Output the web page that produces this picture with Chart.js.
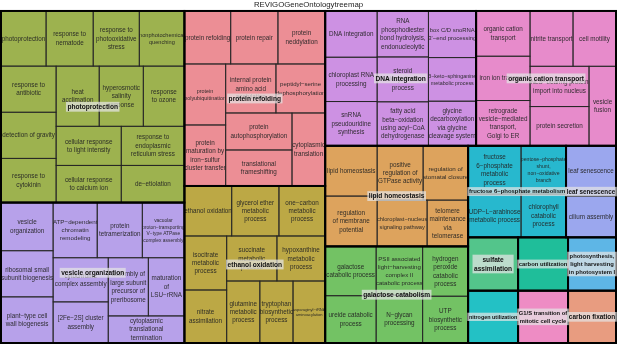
<!DOCTYPE html>
<html><head><meta charset="utf-8">
<script src="https://cdn.jsdelivr.net/npm/chart.js@4.4.1/dist/chart.umd.min.js"></script>
<style>html,body{margin:0;padding:0;background:#fff;overflow:hidden}</style>
</head><body>
<canvas id="c" width="617" height="344"></canvas>
<script>
const chartTitle = "REVIGOGeneOntologytreemap";

const groupNames = [
  "photoprotection", "protein refolding", "vesicle organization", "ethanol oxidation",
  "DNA integration", "organic cation transport", "lipid homeostasis", "galactose catabolism",
  "fructose 6−phosphate metabolism", "leaf senescence", "sulfate\nassimilation", "carbon utilization",
  "photosynthesis,\nlight harvesting\nin photosystem I", "nitrogen utilization", "G1/S transition of\nmitotic cell cycle", "carbon fixation"
];

const tileLabels = [
  ["photoprotection", "response to\nnematode", "response to\nphotooxidative\nstress", "nonphotochemical\nquenching",
   "response to\nantibiotic", "detection of gravity", "response to\ncytokinin", "heat\nacclimation",
   "hyperosmotic\nsalinity\nresponse", "response\nto ozone", "cellular response\nto light intensity",
   "response to\nendoplasmic\nreticulum stress", "cellular response\nto calcium ion", "de−etiolation"],
  ["protein refolding", "protein repair", "protein\nneddylation", "protein\npolyubiquitination",
   "protein\nmaturation by\niron−sulfur\ncluster transfer", "internal protein\namino acid\nacetylation",
   "peptidyl−serine\ndephosphorylation", "protein\nautophosphorylation", "translational\nframeshifting",
   "cytoplasmic\ntranslation"],
  ["vesicle\norganization", "ATP−dependent\nchromatin\nremodeling", "protein\ntetramerization",
   "vacuolar\nproton−transporting\nV−type ATPase\ncomplex assembly", "ribosomal small\nsubunit biogenesis",
   "cytochrome\ncomplex assembly", "assembly of\nlarge subunit\nprecursor of\npreribosome", "maturation\nof\nLSU−rRNA",
   "plant−type cell\nwall biogenesis", "[2Fe−2S] cluster\nassembly", "cytoplasmic\ntranslational\ntermination"],
  ["ethanol oxidation", "glycerol ether\nmetabolic\nprocess", "one−carbon\nmetabolic\nprocess", "isocitrate\nmetabolic\nprocess",
   "succinate\nmetabolic\nprocess", "hypoxanthine\nmetabolic\nprocess", "nitrate\nassimilation", "glutamine\nmetabolic\nprocess",
   "tryptophan\nbiosynthetic\nprocess", "asparaginyl−tRNA\naminoacylation"],
  ["DNA integration", "RNA\nphosphodiester\nbond hydrolysis,\nendonucleolytic", "box C/D snoRNA\n3'−end processing",
   "chloroplast RNA\nprocessing", "steroid\nbiosynthetic\nprocess", "3−keto−sphinganine\nmetabolic process",
   "snRNA\npseudouridine\nsynthesis", "fatty acid\nbeta−oxidation\nusing acyl−CoA\ndehydrogenase",
   "glycine\ndecarboxylation\nvia glycine\ncleavage system"],
  ["organic cation\ntransport", "nitrite transport", "cell motility", "iron ion transport",
   "NLS−bearing protein\nimport into nucleus", "vesicle\nfusion", "retrograde\nvesicle−mediated\ntransport,\nGolgi to ER",
   "protein secretion"],
  ["lipid homeostasis", "positive\nregulation of\nGTPase activity", "regulation of\nstomatal closure",
   "regulation\nof membrane\npotential", "chloroplast−nucleus\nsignaling pathway", "telomere\nmaintenance\nvia\ntelomerase"],
  ["galactose\ncatabolic process", "PSII associated\nlight−harvesting\ncomplex II\ncatabolic process",
   "hydrogen\nperoxide\ncatabolic\nprocess", "ureide catabolic\nprocess", "N−glycan\nprocessing", "UTP\nbiosynthetic\nprocess"],
  ["fructose\n6−phosphate\nmetabolic\nprocess", "pentose−phosphate\nshunt,\nnon−oxidative\nbranch",
   "UDP−L−arabinose\nmetabolic process", "chlorophyll\ncatabolic\nprocess"],
  ["leaf senescence", "cilium assembly"],
  ["sulfate assimilation"], ["carbon utilization"], ["photosynthesis, light harvesting in photosystem I"],
  ["nitrogen utilization"], ["G1/S transition of mitotic cell cycle"], ["carbon fixation"]
];

const tileValues = [
  [2475, 2585, 2530, 2475, 2530, 2530, 2420, 2580, 2640, 2460, 2535, 2457, 2405, 2331],
  [2438, 2491, 2491, 2501, 2501, 2450, 2401, 2442, 2376, 2409],
  [2496, 2420, 2475, 2310, 2392, 2420, 2320, 2088, 2392, 2255, 2052],
  [2350, 2350, 2300, 2268, 2250, 2160, 2226, 2046, 2046, 1984],
  [2392, 2346, 2208, 2288, 2288, 2068, 2288, 2244, 2112],
  [2430, 2365, 2365, 2376, 2360, 2133, 2430, 2301],
  [2600, 2484, 2430, 2600, 2300, 1886],
  [2499, 2254, 2254, 2397, 2209, 2115],
  [2544, 2160, 2279, 1935],
  [2500, 2050],
  [2650], [2650], [2544], [2600], [2600], [2496]
];

const groupColors = [
  "#9DB24F", "#EC8E95", "#B7A1EA", "#BCA845", "#CD91E3", "#E78BCB", "#DDA35D", "#73C264",
  "#27B8CE", "#9BA7EE", "#53C58B", "#1FBE9A", "#5EB6E6", "#23C1C5", "#EE8CC4", "#E89C80"
];

// slice arrangement (h = side by side, v = stacked); numbers index groups / tiles
const topArrangement = ['h', ['v', 0, 2], ['v', 1, 3],
  ['v', ['h', 4, 5], ['h', ['v', 6, 7], ['v', ['h', 8, 9], ['h', ['v', 10, 13], ['v', 11, 14], ['v', 12, 15]]]]]];
const groupArrangements = [
  ['v', ['h', 0, 1, 2, 3], ['h', ['v', 4, 5, 6], ['v', ['h', 7, 8, 9], ['h', ['v', 10, 12], ['v', 11, 13]]]]],
  ['v', ['h', 0, 1, 2], ['h', ['v', 3, 4], ['v', ['h', 5, 6], ['h', ['v', 7, 8], 9]]]],
  ['h', ['v', 0, 4, 8], ['v', ['h', 1, 2, 3], ['h', ['v', 5, 9], ['v', ['h', 6, 7], 10]]]],
  ['v', ['h', 0, 1, 2], ['h', ['v', 3, 6], ['v', ['h', 4, 5], ['h', 7, 8, 9]]]],
  ['h', ['v', 0, 3, 6], ['v', 1, 4, 7], ['v', 2, 5, 8]],
  ['h', ['v', 0, 3, 6], ['v', ['h', 1, 2], ['h', ['v', 4, 7], 5]]],
  ['h', ['v', 0, 3], ['v', ['h', 1, 2], ['h', 4, 5]]],
  ['h', ['v', 0, 3], ['v', 1, 4], ['v', 2, 5]],
  ['h', ['v', 0, 2], ['v', 1, 3]],
  ['v', 0, 1],
  0, 0, 0, 0, 0, 0
];

const FONT = '"Liberation Sans", Arial, Helvetica, sans-serif';

function sumNode(node, vals) {
  if (typeof node === 'number') return vals[node];
  return node.slice(1).reduce((s, c) => s + sumNode(c, vals), 0);
}
function layoutNode(node, vals, x0, y0, x1, y1, out) {
  if (typeof node === 'number') { out[node] = {x0, y0, x1, y1}; return; }
  const dir = node[0], kids = node.slice(1), total = sumNode(node, vals);
  let pos = dir === 'h' ? x0 : y0;
  kids.forEach(k => {
    const f = sumNode(k, vals) / total;
    if (dir === 'h') { const n = pos + (x1 - x0) * f; layoutNode(k, vals, pos, y0, n, y1, out); pos = n; }
    else { const n = pos + (y1 - y0) * f; layoutNode(k, vals, x0, pos, x1, n, out); pos = n; }
  });
}

const groupTotals = tileValues.map(a => a.reduce((s, v) => s + v, 0));
const groupRects = [];
layoutNode(topArrangement, groupTotals, 0, 0, 1, 1, groupRects);
const tileRects = groupRects.map((r, g) => {
  const out = [];
  layoutNode(groupArrangements[g], tileValues[g], r.x0, r.y0, r.x1, r.y1, out);
  return out;
});
const centers = [];
tileRects.forEach(rs => rs.forEach(r => centers.push({x: (r.x0 + r.x1) / 2, y: (r.y0 + r.y1) / 2})));

function drawLabel(ctx, text, cx, cy, maxW, maxH, base, weight, color, bg, slack) {
  const lines = text.split('\n');
  ctx.font = `${weight} ${base}px ${FONT}`;
  const mw = Math.max(...lines.map(l => ctx.measureText(l).width));
  const lhR = 1.34;
  const s = Math.min(1, (maxW + slack) / mw, (maxH - 1) / (lines.length * base * lhR));
  const size = base * s, lh = size * lhR;
  ctx.font = `${weight} ${size}px ${FONT}`;
  const tw = mw * s;
  const top = cy - lines.length * lh / 2;
  if (bg) {
    ctx.fillStyle = bg;
    ctx.fillRect(cx - tw / 2 - 1.5, top - 0.5, tw + 3, lines.length * lh + 1);
  }
  ctx.fillStyle = color;
  ctx.textAlign = 'center';
  ctx.textBaseline = 'middle';
  lines.forEach((l, i) => ctx.fillText(l, cx, top + lh * (i + 0.5) + 0.3));
}

const treemapPlugin = {
  id: 'treemapDraw',
  afterDatasetsDraw(chart) {
    const ctx = chart.ctx, xs = chart.scales.x, ys = chart.scales.y;
    const P = r => {
      const x0 = xs.getPixelForValue(r.x0), x1 = xs.getPixelForValue(r.x1);
      const y0 = ys.getPixelForValue(r.y0), y1 = ys.getPixelForValue(r.y1);
      return {x: x0, y: y0, w: x1 - x0, h: y1 - y0};
    };
    ctx.save();
    tileRects.forEach((rs, g) => rs.forEach(r => {
      const p = P(r);
      ctx.fillStyle = groupColors[g];
      ctx.fillRect(p.x, p.y, p.w, p.h);
    }));
    // tile labels (clipped to their tile)
    tileRects.forEach((rs, g) => {
      if (rs.length < 2) return;
      rs.forEach((r, i) => {
        const p = P(r);
        ctx.save();
        ctx.beginPath(); ctx.rect(p.x, p.y, p.w, p.h); ctx.clip();
        drawLabel(ctx, tileLabels[g][i], p.x + p.w / 2, p.y + p.h / 2, p.w, p.h, 6.3, 'normal', 'rgba(35,35,35,0.92)', null, 0.5);
        ctx.restore();
      });
    });
    ctx.strokeStyle = 'rgba(35,35,35,0.85)';
    ctx.lineWidth = 1;
    tileRects.forEach(rs => rs.forEach(r => {
      const p = P(r);
      ctx.strokeRect(p.x, p.y, p.w, p.h);
    }));
    ctx.strokeStyle = '#000';
    ctx.lineWidth = 2;
    groupRects.forEach(r => { const p = P(r); ctx.strokeRect(p.x, p.y, p.w, p.h); });
    // group labels
    groupRects.forEach((r, g) => {
      const p = P(r);
      drawLabel(ctx, groupNames[g], p.x + p.w / 2, p.y + p.h / 2, p.w, p.h, 6.6, 'bold', '#111', 'rgba(228,228,228,0.72)', -1.5);
    });
    ctx.restore();
  }
};

new Chart(document.getElementById('c').getContext('2d'), {
  type: 'scatter',
  data: {datasets: [{data: centers, pointRadius: 0, pointHoverRadius: 0}]},
  options: {
    responsive: false, animation: false, devicePixelRatio: 1,
    layout: {padding: {left: 1, right: 1, top: 0, bottom: 1}},
    plugins: {
      legend: {display: false}, tooltip: {enabled: false},
      title: {display: true, text: chartTitle, color: '#222',
        font: {family: FONT, size: 7.8, weight: 'normal'}, padding: {top: 0.2, bottom: 1.4}}
    },
    scales: {
      x: {type: 'linear', min: 0, max: 1, display: false},
      y: {type: 'linear', min: 0, max: 1, reverse: true, display: false}
    }
  },
  plugins: [treemapPlugin]
});
</script>
</body></html>
